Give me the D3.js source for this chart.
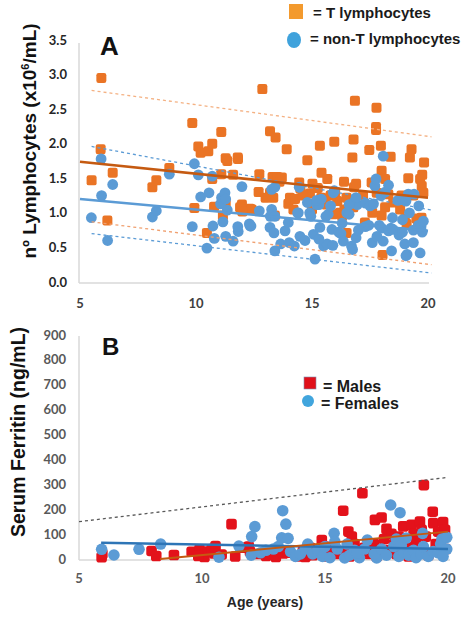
<!DOCTYPE html>
<html>
<head>
<meta charset="utf-8">
<script src="https://cdn.jsdelivr.net/npm/d3@7"></script>
<style>
  body { margin: 0; background: #fff; }
  svg { display: block; }
</style>
</head>
<body>
<svg class="chart" width="462" height="617"></svg>
<script>
(function () {

    'use strict';

    // ---- panel A data [age, 10^6 cells/mL] ----
    var tCells = [[5.5,1.47],[5.92,2.95],[5.89,1.92],[6.41,1.58],[6.18,0.89],[8.12,1.37],[8.29,1.47],[8.85,1.65],[9.84,2.30],[9.93,1.07],[10.1,1.96],[10.2,1.87],[10.53,1.89],[10.7,2.0],[10.7,1.49],[10.47,0.71],[10.78,1.09],[11.09,2.17],[11.09,1.56],[11.16,0.96],[11.28,1.79],[11.28,1.13],[11.35,1.75],[11.6,1.55],[11.81,1.78],[11.98,1.12],[12.33,1.06],[12.4,1.05],[12.73,1.56],[12.86,2.79],[13.19,2.18],[13.19,1.29],[13.3,1.52],[13.33,1.22],[13.43,2.09],[13.4,0.96],[13.5,1.52],[13.7,1.51],[13.91,1.92],[13.98,1.13],[14.05,1.22],[14.27,1.20],[14.45,1.44],[14.8,1.76],[14.91,1.28],[15.02,1.42],[15.13,1.13],[15.34,1.97],[15.41,1.58],[15.4,1.22],[15.5,1.17],[15.6,1.12],[15.66,1.49],[15.92,0.98],[15.96,2.03],[16.09,1.17],[16.2,1.0],[16.38,1.45],[16.49,1.22],[16.49,0.71],[16.74,1.80],[16.79,2.06],[16.81,1.37],[16.78,1.08],[16.85,2.62],[17.28,0.86],[17.47,1.91],[17.57,1.44],[17.78,2.52],[17.76,2.24],[17.76,2.20],[17.79,1.29],[17.97,1.97],[18.0,1.61],[18.0,0.96],[18.04,0.39],[18.15,1.49],[18.15,1.08],[18.29,1.27],[18.39,1.81],[18.86,1.25],[19.0,0.91],[19.08,0.84],[19.15,1.50],[19.22,1.80],[19.29,1.92],[19.37,1.25],[19.58,0.84],[19.66,1.49],[19.72,0.93],[19.73,1.39],[19.8,1.29],[19.83,1.73],[11.8,1.80],[13.6,1.45],[14.5,1.35],[14.6,1.25],[15.25,1.36],[15.8,1.25],[16.0,1.3],[11.9,1.08],[12.0,1.02],[16.3,0.95],[16.4,1.05],[18.8,1.05],[19.5,0.92],[19.75,1.55],[17.2,1.25],[16.9,1.42],[14.2,1.05],[13.0,1.22],[12.7,1.3],[17.6,1.0],[18.5,1.15],[15.0,1.05]];

    var nonTCells = [[5.49,0.93],[5.91,1.78],[5.93,1.25],[6.41,1.41],[6.19,0.60],[8.12,0.94],[8.29,1.03],[8.85,1.56],[9.84,0.80],[9.93,1.71],[10.1,1.55],[10.2,1.23],[10.47,0.49],[10.56,1.29],[10.7,1.53],[10.73,0.81],[10.79,0.63],[11.06,1.13],[11.1,1.22],[11.16,0.87],[11.25,1.29],[11.28,1.20],[11.28,0.66],[11.35,1.04],[11.6,0.59],[11.82,0.73],[11.98,1.38],[12.33,0.81],[12.37,0.81],[12.73,1.03],[13.19,0.79],[13.2,0.95],[13.26,1.34],[13.26,1.05],[13.36,0.71],[13.4,1.37],[13.4,0.95],[13.4,0.45],[13.65,0.55],[13.84,0.74],[13.98,0.86],[14.02,0.57],[14.24,0.52],[14.41,1.0],[14.45,1.37],[14.48,0.66],[14.8,1.15],[14.9,1.0],[14.95,0.95],[15.06,0.69],[15.13,0.33],[15.2,1.12],[15.3,1.12],[15.34,0.79],[15.5,0.52],[15.6,0.95],[15.65,0.55],[15.7,0.98],[15.86,0.76],[15.9,0.53],[15.92,1.29],[16.15,0.72],[16.25,0.70],[16.35,0.59],[16.5,1.0],[16.6,0.98],[16.7,0.52],[16.75,0.47],[16.85,1.17],[16.9,0.64],[16.95,1.12],[17.3,1.14],[17.3,0.80],[17.45,0.82],[17.5,1.10],[17.6,0.57],[17.65,1.13],[17.71,1.39],[17.76,1.49],[17.9,0.82],[18.0,0.78],[18.07,1.82],[18.07,0.59],[18.3,0.74],[18.4,0.78],[18.43,0.45],[18.47,0.93],[18.5,0.76],[18.7,1.18],[18.75,0.68],[18.9,1.19],[18.9,0.72],[19.0,0.55],[19.05,1.17],[19.1,0.40],[19.2,1.0],[19.37,0.75],[19.37,0.57],[19.58,0.82],[19.66,0.42],[19.7,0.8],[19.75,0.72],[19.8,0.88],[14.38,1.0],[15.2,1.18],[15.4,1.2],[15.8,1.1],[15.96,1.32],[16.6,1.12],[16.9,1.22],[17.97,1.25],[18.15,1.3],[19.15,1.27],[19.4,1.27],[19.6,1.1],[18.3,1.4],[11.8,0.8],[12.3,0.84],[19.05,0.38],[14.7,0.6],[15.3,0.62],[17.0,0.75],[17.8,0.66],[18.9,0.9],[16.3,0.85]];

    // regression and 95% bands (end points)
    var tFit = [[5, 1.74], [20, 1.22]];
    var tUpper = [[5.5, 2.77], [20.15, 2.10]];
    var tLower = [[5.5, 0.87], [20.15, 0.25]];
    var nFit = [[5, 1.20], [20, 0.74]];
    var nUpper = [[5.5, 1.96], [20.15, 1.04]];
    var nLower = [[5.5, 0.70], [20.15, 0.13]];

    var ticksA = ["0.0", "0.5", "1.0", "1.5", "2.0", "2.5", "3.0", "3.5"];
    var ageTicks = [5, 10, 15, 20];

    // ---- panel B data [age, ferritin ng/mL] ----
    var males = [[5.92,7],[5.95,20],[7.95,32],[8.14,12],[8.86,16],[9.58,29],[9.9,38],[10.0,18],[10.1,8],[10.25,30],[9.85,12],[10.4,40],[10.55,52],[10.5,22],[10.8,18],[11.2,140],[11.35,10],[11.6,45],[11.95,30],[11.9,50],[12.3,20],[12.6,12],[13.0,8],[13.3,22],[13.5,25],[13.9,10],[14.1,30],[14.4,45],[14.5,15],[14.7,28],[14.87,76],[15.0,50],[15.1,10],[15.35,40],[15.5,20],[15.74,194],[15.8,30],[15.95,110],[16.09,90],[16.2,60],[16.3,20],[16.52,264],[16.6,45],[16.8,20],[17.03,157],[17.0,60],[17.1,10],[17.3,167],[17.4,80],[17.5,121],[17.6,35],[17.7,101],[17.8,60],[17.9,20],[18.0,90],[18.18,131],[18.3,50],[18.4,10],[18.52,137],[18.6,100],[18.7,70],[18.86,150],[18.93,117],[19.0,40],[19.02,297],[19.1,90],[19.2,15],[19.38,190],[19.4,144],[19.5,60],[19.6,110],[19.8,148],[19.88,117],[19.88,90],[19.9,40],[18.8,25],[17.2,40],[16.0,10],[14.2,8],[12.8,30]];

    var females = [[5.92,39],[6.42,16],[7.44,39],[8.32,60],[10.69,7],[11.5,52],[12.02,90],[12.15,130],[12.38,25],[12.6,35],[12.9,40],[13.1,50],[13.28,194],[13.41,140],[13.24,85],[13.5,83],[13.6,30],[13.8,10],[14.0,20],[14.2,40],[14.5,20],[14.7,35],[14.9,10],[15.0,50],[15.2,5],[15.37,103],[15.5,40],[15.8,4],[15.9,60],[16.0,15],[16.2,35],[16.4,5],[16.6,40],[16.72,76],[17.1,4],[17.0,20],[17.3,40],[17.5,15],[17.67,217],[17.8,50],[18.05,186],[18.0,10],[18.2,30],[18.3,84],[18.4,15],[18.6,35],[18.7,5],[18.9,20],[18.97,103],[19.0,50],[19.2,10],[19.4,30],[19.6,25],[19.7,60],[19.75,80],[19.95,87],[19.95,40],[19.8,10],[16.3,25],[15.4,70],[17.9,80],[12.0,15],[14.3,60],[18.1,55]];

    var ferritinLimit = [[5, 150], [20, 328]];
    var femaleFit = [[5.9, 65], [20, 40]];
    var maleFit = [[8.3, 0], [20, 110]];

    var ticksB = [0, 100, 200, 300, 400, 500, 600, 700, 800, 900];

    var svg = d3.select("svg.chart");
    var axisColor = "#d9d9d9";

    // ================= Panel A =================
    var xA = d3.scaleLinear().domain([5, 20]).range([80, 428]);
    var yA = d3.scaleLinear().domain([0, 3.5]).range([282, 40]);

    var gA = svg.append("g");

    gA.append("line").attr("x1", 79).attr("x2", 79).attr("y1", 43).attr("y2", 283)
        .attr("stroke", axisColor).attr("stroke-width", 1.5);
    gA.append("line").attr("x1", 79).attr("x2", 429).attr("y1", 283).attr("y2", 283)
        .attr("stroke", axisColor).attr("stroke-width", 1.5);

    gA.append("g").selectAll("text").data(ticksA).enter().append("text")
        .attr("x", 67).attr("y", function (d) { return yA(+d); })
        .attr("dy", "0.35em").attr("text-anchor", "end")
        .attr("font-family", "Lato").attr("font-weight", "bold").attr("font-size", 13)
        .attr("fill", "#262626").text(function (d) { return d; });

    gA.append("g").selectAll("text").data(ageTicks).enter().append("text")
        .attr("x", function (d) { return xA(d); }).attr("y", 303)
        .attr("dy", "0.35em").attr("text-anchor", "middle")
        .attr("font-family", "Lato").attr("font-weight", "bold").attr("font-size", 13)
        .attr("fill", "#404040").text(function (d) { return d; });

    gA.append("g").selectAll("rect").data(tCells).enter().append("rect")
        .attr("x", function (d) { return xA(d[0]) - 5; })
        .attr("y", function (d) { return yA(d[1]) - 5; })
        .attr("width", 10).attr("height", 10).attr("rx", 2.2)
        .attr("fill", "#EA7425");

    gA.append("g").selectAll("circle").data(nonTCells).enter().append("circle")
        .attr("cx", function (d) { return xA(d[0]); })
        .attr("cy", function (d) { return yA(d[1]); })
        .attr("r", 5.4).attr("fill", "#5B9BD5");

    var lineA = d3.line().x(function (d) { return xA(d[0]); }).y(function (d) { return yA(d[1]); });

    [[tUpper, "#F4B183"], [tLower, "#F0A070"]].forEach(function (l) {
        gA.append("path").attr("d", lineA(l[0])).attr("fill", "none")
            .attr("stroke", l[1]).attr("stroke-width", 1.3).attr("stroke-dasharray", "3,3");
    });
    [nUpper, nLower].forEach(function (l) {
        gA.append("path").attr("d", lineA(l)).attr("fill", "none")
            .attr("stroke", "#5B9BD5").attr("stroke-width", 1.3).attr("stroke-dasharray", "3,3");
    });
    gA.append("path").attr("d", lineA(tFit)).attr("fill", "none")
        .attr("stroke", "#C55A11").attr("stroke-width", 2.5);
    gA.append("path").attr("d", lineA(nFit)).attr("fill", "none")
        .attr("stroke", "#5B9BD5").attr("stroke-width", 2.5);

    gA.append("text").attr("x", 100).attr("y", 55)
        .attr("font-family", "Liberation Sans").attr("font-weight", "bold").attr("font-size", 26)
        .attr("fill", "#111").text("A");

    var titleA = gA.append("text")
        .attr("transform", "translate(36,141) rotate(-90)")
        .attr("text-anchor", "middle")
        .attr("font-family", "Liberation Sans").attr("font-weight", "bold").attr("font-size", 19)
        .attr("fill", "#111");
    titleA.append("tspan").text("nº Lymphocytes (x10");
    titleA.append("tspan").attr("font-size", 11).attr("dy", -7).text("6");
    titleA.append("tspan").attr("dy", 7).text("/mL)");

    // legend A
    var legA = svg.append("g").attr("font-family", "Liberation Sans").attr("font-weight", "bold")
        .attr("font-size", 15).attr("fill", "#1a1a1a");
    legA.append("rect").attr("x", 289).attr("y", 4).attr("width", 14).attr("height", 15).attr("fill", "#F39A2E");
    legA.append("text").attr("x", 313).attr("y", 18).text("= T lymphocytes");
    legA.append("ellipse").attr("cx", 294).attr("cy", 40).attr("rx", 7).attr("ry", 8).attr("fill", "#3FA2DC");
    legA.append("text").attr("x", 310).attr("y", 44).text("= non-T lymphocytes");

    // ================= Panel B =================
    var xB = d3.scaleLinear().domain([5, 20]).range([79, 448]);
    var yB = d3.scaleLinear().domain([0, 900]).range([559, 335]);

    var gB = svg.append("g");

    gB.append("line").attr("x1", 79).attr("x2", 79).attr("y1", 336).attr("y2", 560)
        .attr("stroke", axisColor).attr("stroke-width", 1.5);
    gB.append("line").attr("x1", 79).attr("x2", 450).attr("y1", 560).attr("y2", 560)
        .attr("stroke", axisColor).attr("stroke-width", 1.5);

    gB.append("g").selectAll("text").data(ticksB).enter().append("text")
        .attr("x", 66).attr("y", function (d) { return yB(d); })
        .attr("dy", "0.35em").attr("text-anchor", "end")
        .attr("font-family", "Lato").attr("font-weight", "bold").attr("font-size", 13)
        .attr("fill", "#595959").text(function (d) { return d; });

    gB.append("g").selectAll("text").data(ageTicks).enter().append("text")
        .attr("x", function (d) { return xB(d); }).attr("y", 578)
        .attr("dy", "0.35em").attr("text-anchor", "middle")
        .attr("font-family", "Lato").attr("font-weight", "bold").attr("font-size", 13)
        .attr("fill", "#595959").text(function (d) { return d; });

    gB.append("g").selectAll("rect").data(males).enter().append("rect")
        .attr("x", function (d) { return xB(d[0]) - 5.3; })
        .attr("y", function (d) { return yB(d[1]) - 5.3; })
        .attr("width", 10.6).attr("height", 10.6).attr("rx", 2.8)
        .attr("fill", "#E3121B");

    gB.append("g").selectAll("circle").data(females).enter().append("circle")
        .attr("cx", function (d) { return xB(d[0]); })
        .attr("cy", function (d) { return yB(d[1]); })
        .attr("r", 5.8).attr("fill", "#5B9BD5");

    var lineB = d3.line().x(function (d) { return xB(d[0]); }).y(function (d) { return yB(d[1]); });

    gB.append("path").attr("d", lineB(ferritinLimit)).attr("fill", "none")
        .attr("stroke", "#595959").attr("stroke-width", 1.3).attr("stroke-dasharray", "3,3");
    gB.append("path").attr("d", lineB(femaleFit)).attr("fill", "none")
        .attr("stroke", "#2E75B6").attr("stroke-width", 2.5);
    gB.append("path").attr("d", lineB(maleFit)).attr("fill", "none")
        .attr("stroke", "#C55A11").attr("stroke-width", 2);

    gB.append("text").attr("x", 102).attr("y", 355)
        .attr("font-family", "Liberation Sans").attr("font-weight", "bold").attr("font-size", 24)
        .attr("fill", "#111").text("B");

    gB.append("text")
        .attr("transform", "translate(25,432) rotate(-90)")
        .attr("text-anchor", "middle")
        .attr("font-family", "Liberation Sans").attr("font-weight", "bold").attr("font-size", 19.5)
        .attr("fill", "#111").text("Serum Ferritin (ng/mL)");

    gB.append("text").attr("x", 265).attr("y", 607).attr("text-anchor", "middle")
        .attr("font-family", "Liberation Sans").attr("font-weight", "bold").attr("font-size", 14)
        .attr("fill", "#262626").text("Age (years)");

    // legend B
    var legB = svg.append("g").attr("font-family", "Liberation Sans").attr("font-weight", "bold")
        .attr("font-size", 16).attr("fill", "#1a1a1a");
    legB.append("rect").attr("x", 304).attr("y", 377).attr("width", 12).attr("height", 12)
        .attr("fill", "#E0101A").attr("stroke", "#7f8fb0").attr("stroke-width", 0.6);
    legB.append("text").attr("x", 323).attr("y", 392).text("= Males");
    legB.append("circle").attr("cx", 308).attr("cy", 401).attr("r", 6).attr("fill", "#41A5DD");
    legB.append("text").attr("x", 321).attr("y", 409).text("= Females");
})();
</script>
</body>
</html>
